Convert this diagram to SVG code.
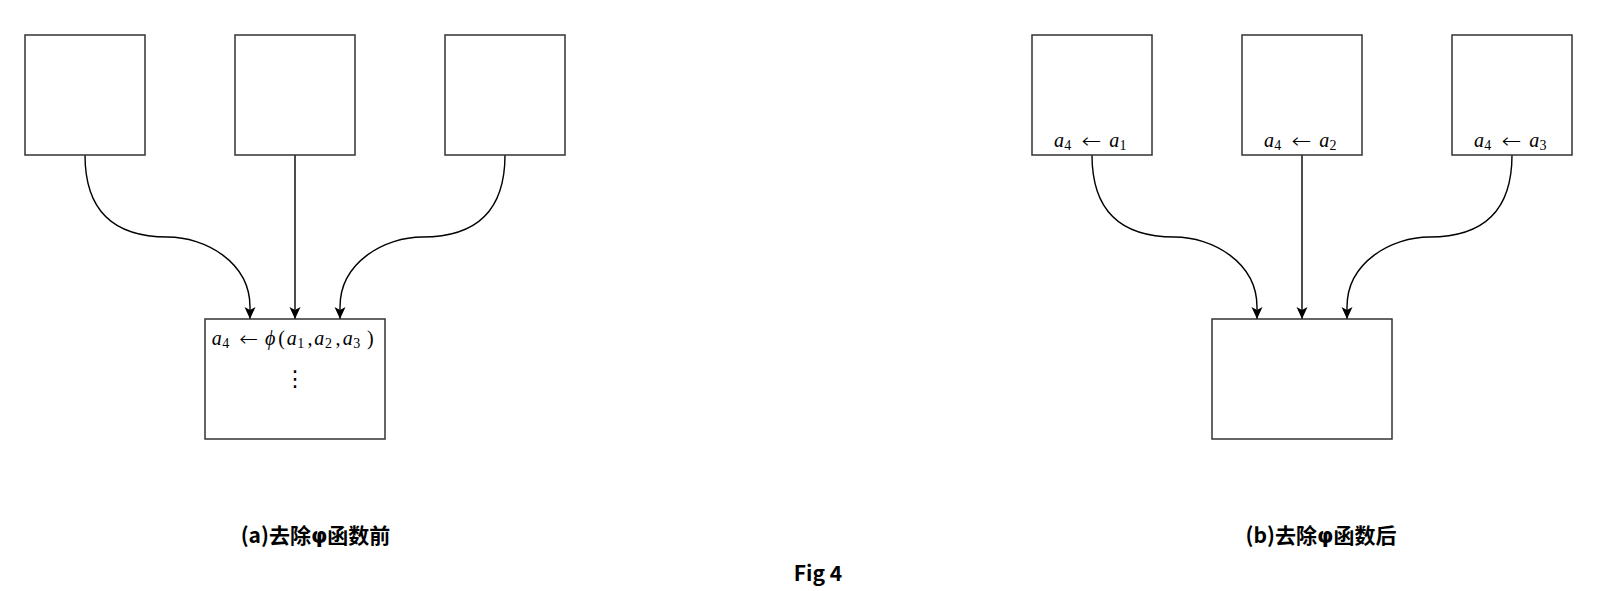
<svg xmlns="http://www.w3.org/2000/svg" width="1615" height="591" viewBox="0 0 1615 591">
<style>
.box{fill:#fff;stroke:#333;stroke-width:1.5}
.edge{fill:none;stroke:#000;stroke-width:1.4}
.m{font-family:"Liberation Serif","DejaVu Serif",serif;font-size:20px;fill:#000}
.i{font-style:italic}
.s{font-size:14px;font-style:normal}
.ar{font-family:"DejaVu Sans",sans-serif;font-weight:200;font-size:21px;font-style:normal}
.cap{font-family:"Noto Sans CJK SC","Noto Sans",sans-serif;font-weight:bold;font-size:21px;fill:#000;text-anchor:middle}
.ph{font-family:"DejaVu Sans",sans-serif}
</style>
<defs>
<marker id="arr" markerUnits="userSpaceOnUse" markerWidth="13" markerHeight="12" refX="12" refY="5.5" orient="auto" overflow="visible">
<path d="M0,0 L12,5.5 L0,11 L3,5.5 Z" fill="#000"/>
</marker>
</defs>
<rect width="1615" height="591" fill="#fff"/>
<g id="connectors">
<path class="edge" d="M85,155 Q85,237 167.5,237 C205,237 250,262 250,307 L250,319" marker-end="url(#arr)"/>
<path class="edge" d="M295,155 L295,319" marker-end="url(#arr)"/>
<path class="edge" d="M505,155 Q505,237 422.5,237 C385,237 340,262 340,307 L340,319" marker-end="url(#arr)"/>
<path class="edge" d="M1092,155 Q1092,237 1174.5,237 C1212,237 1257,262 1257,307 L1257,319" marker-end="url(#arr)"/>
<path class="edge" d="M1302,155 L1302,319" marker-end="url(#arr)"/>
<path class="edge" d="M1512,155 Q1512,237 1429.5,237 C1392,237 1347,262 1347,307 L1347,319" marker-end="url(#arr)"/>
</g>
<g id="a-top1"><rect class="box" x="25" y="35" width="120" height="120"/></g>
<g id="a-top2"><rect class="box" x="235" y="35" width="120" height="120"/></g>
<g id="a-top3"><rect class="box" x="445" y="35" width="120" height="120"/></g>
<g id="a-bottom">
<rect class="box" x="205" y="319" width="180" height="120"/>
<text class="m"><tspan class="i" x="211.7" y="345">a</tspan><tspan class="s" x="222.3" y="348">4</tspan><tspan class="ar" x="239.3" y="346" textLength="19" lengthAdjust="spacingAndGlyphs">←</tspan><tspan class="i" x="265" y="345">ϕ</tspan><tspan x="278.3" y="345">(</tspan><tspan class="i" x="286.7" y="345">a</tspan><tspan class="s" x="297.3" y="348">1</tspan><tspan x="307.5" y="345">,</tspan><tspan class="i" x="314.3" y="345">a</tspan><tspan class="s" x="325" y="348">2</tspan><tspan x="335.5" y="345">,</tspan><tspan class="i" x="342.7" y="345">a</tspan><tspan class="s" x="353.3" y="348">3</tspan><tspan x="367" y="345">)</tspan></text>
<text class="m" x="295" y="386" text-anchor="middle" style="font-family:'DejaVu Sans',sans-serif;font-size:22px">⋮</text>
</g>
<g id="b-top1">
<rect class="box" x="1032" y="35" width="120" height="120"/>
<text class="m"><tspan class="i" x="1054" y="146.7">a</tspan><tspan class="s" x="1064.3" y="149.5">4</tspan><tspan class="ar" x="1081.5" y="147.7" textLength="20" lengthAdjust="spacingAndGlyphs">←</tspan><tspan class="i" x="1109.3" y="146.7">a</tspan><tspan class="s" x="1119.5" y="149.5">1</tspan></text>
</g>
<g id="b-top2">
<rect class="box" x="1242" y="35" width="120" height="120"/>
<text class="m"><tspan class="i" x="1264" y="146.7">a</tspan><tspan class="s" x="1274.3" y="149.5">4</tspan><tspan class="ar" x="1291.5" y="147.7" textLength="20" lengthAdjust="spacingAndGlyphs">←</tspan><tspan class="i" x="1319.3" y="146.7">a</tspan><tspan class="s" x="1329.5" y="149.5">2</tspan></text>
</g>
<g id="b-top3">
<rect class="box" x="1452" y="35" width="120" height="120"/>
<text class="m"><tspan class="i" x="1474" y="146.7">a</tspan><tspan class="s" x="1484.3" y="149.5">4</tspan><tspan class="ar" x="1501.5" y="147.7" textLength="20" lengthAdjust="spacingAndGlyphs">←</tspan><tspan class="i" x="1529.3" y="146.7">a</tspan><tspan class="s" x="1539.5" y="149.5">3</tspan></text>
</g>
<g id="b-bottom"><rect class="box" x="1212" y="319" width="180" height="120"/></g>
<g id="captions">
<text class="cap" x="315.5" y="543">(a)去除<tspan class="ph">φ</tspan>函数前</text>
<text class="cap" x="1321" y="543">(b)去除<tspan class="ph">φ</tspan>函数后</text>
<text class="cap" x="818" y="580.5">Fig 4</text>
</g>
</svg>
